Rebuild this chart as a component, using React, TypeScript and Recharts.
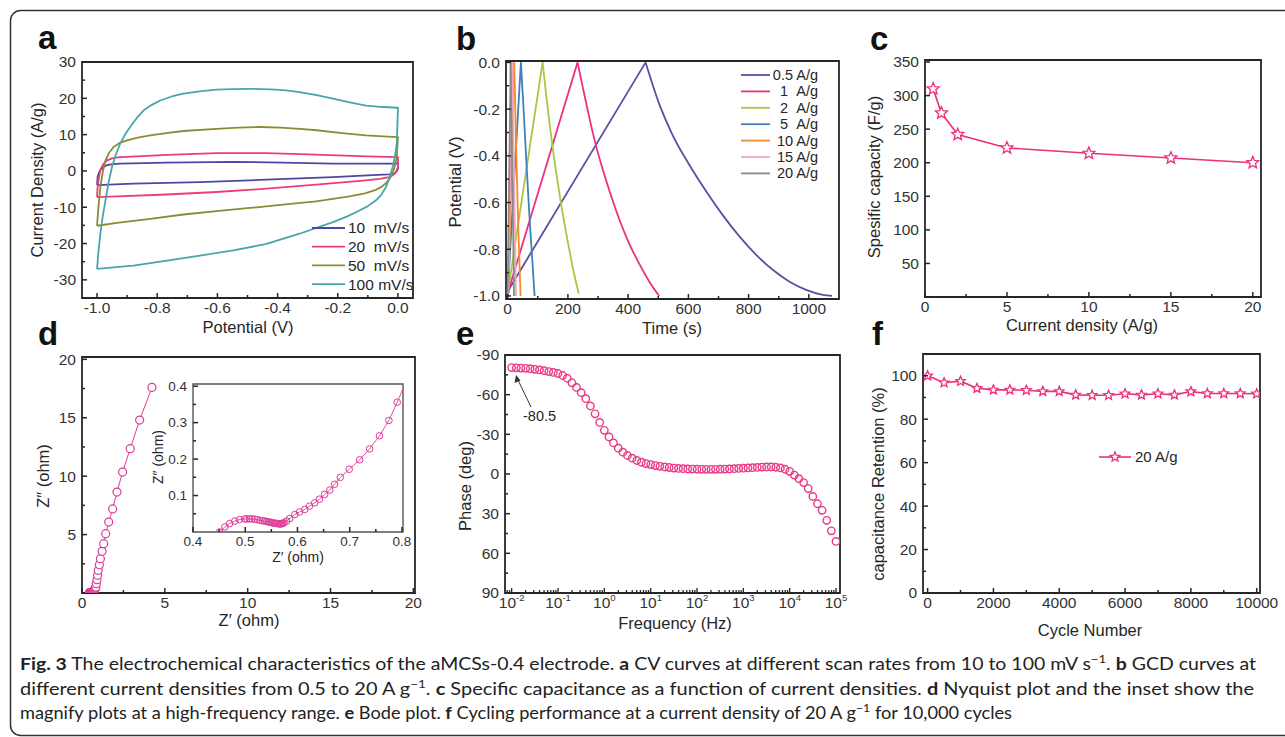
import React from "react";
import { LineChart, Line, XAxis, YAxis, ReferenceArea } from "recharts";

const FONT = "'Liberation Sans', Arial, Helvetica, sans-serif";
const INK = "#262626";
const LABEL = "#333";
const PINK = "#ec2f7c";
const MAGENTA = "#dc3c98";
const ROSE = "#ea3a86";

// ---------- a: CV curves, [potential V, current A/g] ----------
const cvNames = ["10\u00a0\u00a0mV/s", "20\u00a0\u00a0mV/s", "50\u00a0\u00a0mV/s", "100 mV/s"];
const cvColors = ["#4f45a3", "#ec3a7f", "#8d8a35", "#47a6a9"];
const cv10 = [
  [-1.0, -3.9], [-0.998, -1.6], [-0.994, -0.6], [-0.989, 0.2], [-0.98, 1.0], [-0.967, 1.6],
  [-0.948, 1.9], [-0.923, 2.0], [-0.768, 2.3], [-0.547, 2.5], [-0.382, 2.3], [-0.216, 2.0],
  [0.0, 2.0], [0.0, 0.6], [-0.005, -0.2], [-0.012, -0.8], [-0.03, -0.95], [-0.051, -1.0],
  [-0.216, -1.7], [-0.437, -2.4], [-0.658, -3.1], [-0.879, -3.5], [-1.0, -3.9],
];
const cv20 = [
  [-1.0, -7.2], [-0.998, -4.4], [-0.994, -1.9], [-0.989, 0.2], [-0.98, 1.8], [-0.967, 2.9],
  [-0.948, 3.5], [-0.923, 3.8], [-0.85, 4.1], [-0.768, 4.4], [-0.603, 4.9], [-0.437, 4.9],
  [-0.272, 4.5], [-0.106, 4.0], [0.0, 3.8], [0.0, 1.0], [-0.007, -0.3], [-0.016, -1.1],
  [-0.029, -1.7], [-0.06, -2.2], [-0.106, -2.6], [-0.272, -3.8], [-0.437, -4.9],
  [-0.603, -5.8], [-0.768, -6.5], [-0.934, -7.0], [-1.0, -7.2],
];
const cv50 = [
  [-1.0, -15.1], [-0.995, -9.5], [-0.989, -4.5], [-0.981, -0.3], [-0.972, 2.9], [-0.96, 5.0],
  [-0.945, 6.6], [-0.925, 7.7], [-0.9, 8.4], [-0.865, 9.2], [-0.823, 9.8], [-0.77, 10.4],
  [-0.713, 11.0], [-0.603, 11.6], [-0.53, 11.9], [-0.459, 12.1], [-0.39, 11.9], [-0.327, 11.6],
  [-0.27, 11.2], [-0.216, 10.7], [-0.16, 10.2], [-0.106, 9.8], [-0.05, 9.5], [0.0, 9.3],
  [-0.002, 6.3], [-0.004, 3.8], [-0.01, 1.4], [-0.018, -0.6], [-0.028, -2.2], [-0.04, -3.4],
  [-0.055, -4.4], [-0.073, -5.2], [-0.11, -6.2], [-0.161, -7.0], [-0.272, -8.4],
  [-0.382, -9.3], [-0.492, -10.2], [-0.603, -11.1], [-0.713, -12.0], [-0.823, -13.2],
  [-0.934, -14.3], [-1.0, -15.1],
];
const cv100 = [
  [-1.0, -27.0], [-0.995, -22.0], [-0.989, -17.3], [-0.981, -12.5], [-0.972, -8.1],
  [-0.962, -3.3], [-0.95, 1.2], [-0.937, 4.6], [-0.923, 7.5], [-0.907, 10.0], [-0.89, 12.1],
  [-0.868, 14.6], [-0.845, 16.7], [-0.818, 18.2], [-0.79, 19.4], [-0.752, 20.5],
  [-0.713, 21.3], [-0.66, 21.9], [-0.603, 22.4], [-0.55, 22.55], [-0.492, 22.6],
  [-0.45, 22.55], [-0.404, 22.4], [-0.365, 22.1], [-0.327, 21.7], [-0.27, 20.9],
  [-0.216, 19.9], [-0.16, 18.9], [-0.106, 18.0], [-0.05, 17.6], [0.0, 17.4], [-0.002, 12.0],
  [-0.004, 7.5], [-0.01, 4.0], [-0.018, 1.0], [-0.028, -1.9], [-0.04, -4.5], [-0.055, -6.5],
  [-0.073, -8.1], [-0.1, -9.7], [-0.128, -10.9], [-0.17, -12.6], [-0.216, -14.1],
  [-0.327, -17.3], [-0.437, -20.1], [-0.547, -21.9], [-0.658, -23.3], [-0.768, -24.7],
  [-0.879, -26.1], [-1.0, -27.0],
];
const cvSeries = [cv10, cv20, cv50, cv100];
const aXMajor = [-1.0, -0.8, -0.6, -0.4, -0.2, 0.0];
const aXMinor = [-0.9, -0.7, -0.5, -0.3, -0.1];
const aYMajor = [-30, -20, -10, 0, 10, 20, 30];
const aYMinor = [-25, -15, -5, 5, 15, 25];

// ---------- b: GCD curves, [time s, potential V] ----------
const gcdNames = ["0.5 A/g", "1\u00a0\u00a0A/g", "2\u00a0\u00a0A/g", "5\u00a0\u00a0A/g", "10 A/g", "15 A/g", "20 A/g"];
const gcdColors = ["#5a4fa6", "#ee2f7f", "#a9c83e", "#3f80bd", "#f58a2e", "#f2aac4", "#8a8a8a"];
const g05 = [
  [0, -1.0], [5, -0.97], [458, 0.0], [505, -0.184], [548, -0.312], [604, -0.44], [660, -0.554],
  [714, -0.654], [770, -0.746], [826, -0.825], [881, -0.889], [936, -0.939], [991, -0.974],
  [1046, -0.995], [1077, -1.0],
];
const g1 = [
  [0, -1.0], [3, -0.975], [232, 0.0], [250, -0.11], [270, -0.23], [292, -0.35], [316, -0.46],
  [343, -0.57], [373, -0.68], [405, -0.78], [438, -0.865], [471, -0.94], [503, -1.0],
];
const g2 = [
  [0, -0.99], [116, 0.0], [127, -0.13], [139, -0.26], [152, -0.39], [167, -0.52], [183, -0.65],
  [200, -0.77], [218, -0.89], [236, -0.99],
];
const g5 = [[0, -0.99], [44, 0.0], [52, -0.18], [61, -0.4], [72, -0.65], [82, -0.85], [89.5, -1.0]];
const g10 = [[2, -0.99], [22, 0.0], [27, -0.3], [35, -0.7], [43, -1.0]];
const g15 = [[1, -0.99], [15.5, 0.0], [19, -0.3], [24, -0.7], [27.6, -1.0]];
const g20 = [[0, -0.99], [10, 0.0], [13, -0.3], [18, -0.7], [21, -1.0]];
const gcdSeries = [g05, g1, g2, g5, g10, g15, g20];
const bXMajor = [0, 200, 400, 600, 800, 1000];
const bXMinor = [100, 300, 500, 700, 900];
const bYMajor = [0.0, -0.2, -0.4, -0.6, -0.8, -1.0];
const bYMinor = [-0.1, -0.3, -0.5, -0.7, -0.9];

// ---------- c: specific capacity ----------
const cDensity = [0.5, 1, 2, 5, 10, 15, 20];
const cCapacity = [310, 274, 242, 222, 214, 207, 200];
const cXMajor = [0, 5, 10, 15, 20];
const cXMinor = [2.5, 7.5, 12.5, 17.5];
const cYMajor = [50, 100, 150, 200, 250, 300, 350];

// ---------- d: Nyquist, [Z' ohm, Z'' ohm] ----------
const nyquist = [
  [0.451, 0.0], [0.461, 0.014], [0.47, 0.023], [0.48, 0.03], [0.489, 0.034], [0.499, 0.036],
  [0.503, 0.036], [0.508, 0.036], [0.513, 0.036], [0.518, 0.035], [0.523, 0.034],
  [0.528, 0.032], [0.533, 0.031], [0.537, 0.03], [0.541, 0.029], [0.544, 0.028],
  [0.547, 0.027], [0.55, 0.026], [0.553, 0.025], [0.556, 0.024], [0.558, 0.024],
  [0.561, 0.023], [0.563, 0.023], [0.566, 0.022], [0.568, 0.022], [0.57, 0.023],
  [0.572, 0.024], [0.574, 0.025], [0.579, 0.03], [0.585, 0.037], [0.595, 0.048],
  [0.604, 0.055], [0.614, 0.062], [0.623, 0.071], [0.633, 0.08], [0.642, 0.09],
  [0.652, 0.103], [0.662, 0.115], [0.671, 0.131], [0.682, 0.15], [0.699, 0.172],
  [0.719, 0.198], [0.738, 0.228], [0.757, 0.264], [0.775, 0.306], [0.791, 0.356],
  [0.81, 0.42], [0.84, 0.51], [0.86, 0.8], [0.9, 1.14], [0.94, 1.51], [0.98, 1.94],
  [1.05, 2.42], [1.11, 2.94], [1.21, 3.57], [1.31, 4.22], [1.43, 5.08], [1.61, 6.07],
  [1.85, 7.2], [2.11, 8.64], [2.45, 10.35], [2.91, 12.35], [3.48, 14.8], [4.22, 17.6],
];
const dXMajor = [0, 5, 10, 15, 20];
const dXMinor = [2.5, 7.5, 12.5, 17.5];
const dYMajor = [5, 10, 15, 20];
const dYMinor = [2.5, 7.5, 12.5, 17.5];
const inXMajor = [0.4, 0.5, 0.6, 0.7, 0.8];
const inXMinor = [0.45, 0.55, 0.65, 0.75];
const inYMajor = [0.1, 0.2, 0.3, 0.4];
const inYMinor = [0.05, 0.15, 0.25, 0.35];

// ---------- e: Bode phase, [frequency Hz, phase deg] ----------
const bode = [
  [0.01, -80.5], [0.0126, -80.3], [0.0158, -80.1], [0.02, -79.9], [0.0251, -79.6],
  [0.0316, -79.2], [0.0398, -78.7], [0.0501, -78.1], [0.0631, -77.5], [0.0794, -76.8],
  [0.1, -76.0], [0.126, -74.5], [0.158, -72.5], [0.2, -69.0], [0.251, -65.5],
  [0.316, -61.5], [0.398, -57.0], [0.501, -51.5], [0.631, -45.5], [0.794, -39.0],
  [1, -33.0], [1.26, -28.0], [1.58, -23.5], [2.0, -19.5], [2.51, -16.5],
  [3.16, -14.0], [3.98, -12.0], [5.01, -10.2], [6.31, -8.9], [7.94, -7.9],
  [10, -7.1], [12.6, -6.4], [15.8, -5.8], [20, -5.3], [25.1, -4.9],
  [31.6, -4.5], [39.8, -4.2], [50.1, -4.0], [63.1, -3.8], [79.4, -3.7],
  [100, -3.6], [126, -3.5], [158, -3.5], [200, -3.5], [251, -3.5],
  [316, -3.6], [398, -3.7], [501, -3.8], [631, -4.0], [794, -4.2],
  [1000, -4.4], [1260, -4.6], [1580, -4.8], [2000, -5.0], [2510, -5.2],
  [3160, -5.3], [3980, -5.3], [5010, -5.1], [6310, -4.6], [7940, -3.6],
  [10000, -2.0], [12600, 0.8], [15800, 3.5], [20000, 6.5], [25100, 11.0],
  [31600, 17.0], [39800, 22.5], [50100, 27.5], [63100, 35.0], [79400, 43.0],
  [100000, 51.0],
];
const eXMajor = [0.01, 0.1, 1, 10, 100, 1000, 10000, 100000];
const eXExp = ["-2", "-1", "0", "1", "2", "3", "4", "5"];
const eYMajor = [-90, -60, -30, 0, 30, 60, 90];
const eYMinor = [-75, -45, -15, 15, 45, 75];

// ---------- f: cycling ----------
const fCycle = [0, 500, 1000, 1500, 2000, 2500, 3000, 3500, 4000, 4500, 5000, 5500, 6000, 6500, 7000, 7500, 8000, 8500, 9000, 9500, 10000];
const fRetention = [100, 96.8, 97.5, 94.2, 93.5, 93.5, 93.3, 92.8, 92.8, 91.2, 91.0, 91.0, 91.7, 91.2, 91.7, 91.2, 92.7, 91.8, 91.8, 91.8, 91.7];
const fXMajor = [0, 2000, 4000, 6000, 8000, 10000];
const fXMinor = [1000, 3000, 5000, 7000, 9000];
const fYMajor = [0, 20, 40, 60, 80, 100];
const fYMinor = [10, 30, 50, 70, 90];

const toXY = (a: number[][]) => a.map(([x, y]) => ({ x, y }));
const zip = (xs: number[], ys: number[]) => xs.map((x, i) => ({ x, y: ys[i] }));
const f1 = (v: number) => v.toFixed(1);
const f0 = (v: number) => String(v);

// split a GCD curve at its peak: charge part (straight) and discharge part (smooth)
const peakIndex = (s: number[][]) => s.reduce((best, p, i) => (p[1] > s[best][1] ? i : best), 0);
const chargePart = (s: number[][]) => s.slice(0, peakIndex(s) + 1);
const dischargePart = (s: number[][]) => s.slice(peakIndex(s));

// ---------- layout helpers ----------
type Box = { L: number; T: number; R: number; B: number };
const PAD_L = 80;
const PAD_B = 46;
const PAD_T = 12;
const PAD_R = 22;
const XGAP = 4;
const YGAP = 6;

const frame = (b: Box) => ({
  left: b.L - PAD_L,
  top: b.T - PAD_T,
  width: b.R - b.L + PAD_L + PAD_R,
  height: b.B - b.T + PAD_T + PAD_B,
  margin: { top: PAD_T, right: PAD_R, bottom: 0, left: 0 },
});

const near = (arr: number[], v: number) => arr.some((m) => Math.abs(m - v) <= 1e-9 * Math.max(1, Math.abs(m)));

const bottomTick = (majors: number[], fmt: (v: number) => string, size = 15.5) => (p: any) => {
  const v = p.payload.value;
  const major = near(majors, v);
  const y0 = p.y - XGAP;
  return (
    <g>
      <line x1={p.x} x2={p.x} y1={y0} y2={y0 - (major ? 5 : 3)} stroke={INK} strokeWidth={1.5} />
      {major && (
        <text x={p.x} y={p.y} dy="0.72em" textAnchor="middle" fontSize={size} fill={LABEL} fontFamily={FONT}>
          {fmt(v)}
        </text>
      )}
    </g>
  );
};

const leftTick = (majors: number[], fmt: (v: number) => string, size = 15.5) => (p: any) => {
  const v = p.payload.value;
  const major = near(majors, v);
  const x0 = p.x + YGAP;
  return (
    <g>
      <line x1={x0} x2={x0 + (major ? 5 : 3)} y1={p.y} y2={p.y} stroke={INK} strokeWidth={1.5} />
      {major && (
        <text x={p.x} y={p.y} dy="0.35em" textAnchor="end" fontSize={size} fill={LABEL} fontFamily={FONT}>
          {fmt(v)}
        </text>
      )}
    </g>
  );
};

const logTick = (p: any) => {
  const v = p.payload.value;
  const i = eXMajor.findIndex((m) => Math.abs(m - v) <= 1e-9 * m);
  const y0 = p.y - XGAP;
  return (
    <g>
      <line x1={p.x} x2={p.x} y1={y0} y2={y0 - (i >= 0 ? 5 : 3)} stroke={INK} strokeWidth={1.3} />
      {i >= 0 && (
        <text x={p.x} y={p.y} dy="0.72em" textAnchor="middle" fontSize={15.5} fill={LABEL} fontFamily={FONT}>
          10
          <tspan dy={-7} fontSize={9.5}>{eXExp[i]}</tspan>
        </text>
      )}
    </g>
  );
};

const starPoints = (cx: number, cy: number, R: number) => {
  const pts: string[] = [];
  for (let k = 0; k < 10; k++) {
    const r = k % 2 === 0 ? R : R * 0.45;
    const a = -Math.PI / 2 + (k * Math.PI) / 5;
    pts.push(`${cx + r * Math.cos(a)},${cy + r * Math.sin(a)}`);
  }
  return pts.join(" ");
};

const starDot = (R: number, color: string) => (p: any) => (
  <polygon key={`s${p.index}`} points={starPoints(p.cx, p.cy, R)} fill="#fff" stroke={color} strokeWidth={1.3} />
);

const Frame = ({ box, children }: { box: Box; children: React.ReactNode }) => {
  const f = frame(box);
  return (
    <div style={{ position: "absolute", left: f.left, top: f.top }}>
      <LineChart width={f.width} height={f.height} margin={f.margin}>
        {children}
      </LineChart>
    </div>
  );
};

const xAxisProps = { type: "number" as const, dataKey: "x", allowDataOverflow: true, interval: 0 as const, height: PAD_B, tickSize: 0, tickMargin: XGAP, tickLine: false, axisLine: false };
const yAxisProps = { type: "number" as const, allowDataOverflow: true, interval: 0 as const, width: PAD_L, tickSize: 0, tickMargin: YGAP, tickLine: false, axisLine: false };

const boxA: Box = { L: 82, T: 62, R: 413, B: 298 };
const boxB: Box = { L: 506, T: 61, R: 839, B: 299 };
const boxC: Box = { L: 925, T: 60, R: 1261, B: 297 };
const boxD: Box = { L: 82, T: 357, R: 415, B: 593 };
const boxIn: Box = { L: 193, T: 384, R: 403, B: 532 };
const boxE: Box = { L: 505, T: 355, R: 840, B: 593 };
const boxF: Box = { L: 923, T: 354, R: 1260, B: 593 };

const eMinor: number[] = [];
[0.001, 0.01, 0.1, 1, 10, 100, 1000, 10000].forEach((d) => {
  for (let m = 2; m <= 9; m++) {
    const v = d * m;
    if (v > 0.00718 && v < 121900 && !near(eXMajor, v)) eMinor.push(v);
  }
});

const Title = ({ x, y, text, rotate, size = 16.5 }: { x: number; y: number; text: string; rotate?: boolean; size?: number }) => (
  <text
    x={x}
    y={y}
    dy="0.35em"
    textAnchor="middle"
    fontSize={size}
    fill={INK}
    fontFamily={FONT}
    transform={rotate ? `rotate(-90 ${x} ${y})` : undefined}
  >
    {text}
  </text>
);

const Letter = ({ x, y, t }: { x: number; y: number; t: string }) => (
  <text x={x} y={y} fontSize={33} fontWeight="bold" fill="#111" fontFamily={FONT}>
    {t}
  </text>
);

const CAP = "Lato, 'Open Sans', sans-serif";
const SUP = "\u22121";

export default function App() {
  return (
    <div style={{ position: "relative", width: 1285, height: 737, background: "#fff", overflow: "hidden" }}>
      <style>{"body{margin:0}"}</style>

      {/* a */}
      <Frame box={boxA}>
        <XAxis {...xAxisProps} domain={[-1.05, 0.05]} ticks={[...aXMajor, ...aXMinor]} tick={bottomTick(aXMajor, f1)} />
        <YAxis {...yAxisProps} domain={[-35, 30]} ticks={[...aYMajor, ...aYMinor]} tick={leftTick(aYMajor, f0)} />
        <ReferenceArea x1={-1.05} x2={0.05} y1={-35} y2={30} fill="none" stroke={INK} strokeWidth={1.8} />
        {cvSeries.map((s, i) => (
          <Line key={i} data={toXY(s)} dataKey="y" stroke={cvColors[i]} strokeWidth={1.8} strokeLinejoin="round" dot={false} isAnimationActive={false} />
        ))}
      </Frame>

      {/* b */}
      <Frame box={boxB}>
        <XAxis {...xAxisProps} domain={[-5.5, 1100]} ticks={[...bXMajor, ...bXMinor]} tick={bottomTick(bXMajor, f0)} />
        <YAxis {...yAxisProps} domain={[-1.013, 0.006]} ticks={[...bYMajor, ...bYMinor]} tick={leftTick(bYMajor, f1)} />
        <ReferenceArea x1={-5.5} x2={1100} y1={-1.013} y2={0.006} fill="none" stroke={INK} strokeWidth={1.8} />
        {gcdSeries.map((s, i) => (
          <Line key={`c${i}`} type="linear" data={toXY(chargePart(s))} dataKey="y" stroke={gcdColors[i]} strokeWidth={1.8} dot={false} isAnimationActive={false} />
        ))}
        {gcdSeries.map((s, i) => (
          <Line key={`d${i}`} type="monotone" data={toXY(dischargePart(s))} dataKey="y" stroke={gcdColors[i]} strokeWidth={1.8} dot={false} isAnimationActive={false} />
        ))}
      </Frame>

      {/* c */}
      <Frame box={boxC}>
        <XAxis {...xAxisProps} domain={[0, 20.5]} ticks={[...cXMajor, ...cXMinor]} tick={bottomTick(cXMajor, f0)} />
        <YAxis {...yAxisProps} domain={[0, 353]} ticks={cYMajor} tick={leftTick(cYMajor, f0)} />
        <ReferenceArea x1={0} x2={20.5} y1={0} y2={353} fill="none" stroke={INK} strokeWidth={1.8} />
        <Line data={zip(cDensity, cCapacity)} dataKey="y" stroke={PINK} strokeWidth={1.6} dot={starDot(6.3, PINK)} isAnimationActive={false} />
      </Frame>

      {/* d */}
      <Frame box={boxD}>
        <XAxis {...xAxisProps} domain={[0, 20.1]} ticks={[...dXMajor, ...dXMinor]} tick={bottomTick(dXMajor, f0)} />
        <YAxis {...yAxisProps} domain={[0, 20.2]} ticks={[...dYMajor, ...dYMinor]} tick={leftTick(dYMajor, f0)} />
        <ReferenceArea x1={0} x2={20.1} y1={0} y2={20.2} fill="none" stroke={INK} strokeWidth={1.8} />
        <Line
          data={toXY(nyquist)}
          dataKey="y"
          stroke={MAGENTA}
          strokeWidth={1}
          dot={{ r: 4, fill: "#fff", stroke: MAGENTA, strokeWidth: 1.2 }}
          isAnimationActive={false}
        />
      </Frame>

      {/* d inset */}
      <Frame box={boxIn}>
        <XAxis {...xAxisProps} domain={[0.4, 0.802]} ticks={[...inXMajor, ...inXMinor]} tick={bottomTick(inXMajor, f1, 13.5)} />
        <YAxis {...yAxisProps} domain={[0, 0.406]} ticks={[...inYMajor, ...inYMinor]} tick={leftTick(inYMajor, f1, 13.5)} />
        <ReferenceArea x1={0.4} x2={0.802} y1={0} y2={0.406} fill="none" stroke="#555" strokeWidth={1.4} />
        <Line
          data={toXY(nyquist)}
          dataKey="y"
          stroke={MAGENTA}
          strokeWidth={0.9}
          dot={{ r: 3.3, fill: "none", stroke: MAGENTA, strokeWidth: 1 }}
          isAnimationActive={false}
        />
      </Frame>

      {/* e */}
      <Frame box={boxE}>
        <XAxis {...xAxisProps} scale="log" domain={[0.00718, 121900]} ticks={[...eXMajor, ...eMinor]} tick={logTick} />
        <YAxis {...yAxisProps} reversed domain={[-90, 90]} ticks={[...eYMajor, ...eYMinor]} tick={leftTick(eYMajor, f0)} />
        <ReferenceArea x1={0.00718} x2={121900} y1={-90} y2={90} fill="none" stroke={INK} strokeWidth={1.8} />
        <Line
          data={toXY(bode)}
          dataKey="y"
          stroke="none"
          dot={{ r: 3.7, fill: "none", stroke: ROSE, strokeWidth: 1.4 }}
          isAnimationActive={false}
        />
      </Frame>

      {/* f */}
      <Frame box={boxF}>
        <XAxis {...xAxisProps} domain={[-140, 10100]} ticks={[...fXMajor, ...fXMinor]} tick={bottomTick(fXMajor, f0)} />
        <YAxis {...yAxisProps} domain={[0, 110]} ticks={[...fYMajor, ...fYMinor]} tick={leftTick(fYMajor, f0)} />
        <ReferenceArea x1={-140} x2={10100} y1={0} y2={110} fill="none" stroke={INK} strokeWidth={1.8} />
        <Line data={zip(fCycle, fRetention)} dataKey="y" stroke={PINK} strokeWidth={1.6} dot={starDot(5, PINK)} isAnimationActive={false} />
      </Frame>

      <svg width={1285} height={737} style={{ position: "absolute", left: 0, top: 0, pointerEvents: "none" }}>
        <rect x={10.5} y={10.5} width={1300} height={725} rx={10} fill="none" stroke="#333" strokeWidth={1.5} />

        <Letter x={38} y={49} t="a" />
        <Letter x={456} y={50} t="b" />
        <Letter x={870} y={50} t="c" />
        <Letter x={38} y={345} t="d" />
        <Letter x={456} y={345} t="e" />
        <Letter x={872} y={345} t="f" />

        <Title x={37} y={180} text="Current Density (A/g)" rotate />
        <Title x={248} y={327} text="Potential (V)" />
        <Title x={455} y={182} text="Potential (V)" rotate />
        <Title x={672} y={328} text="Time (s)" />
        <Title x={874} y={177} text="Spesific capacity (F/g)" rotate />
        <Title x={1082} y={325} text="Current density (A/g)" />
        <Title x={43} y={476} text={"Z\u2033 (ohm)"} rotate />
        <Title x={249} y={620} text={"Z\u2032 (ohm)"} />
        <Title x={158} y={457} text={"Z\u2033 (ohm)"} rotate size={14} />
        <Title x={298} y={557} text={"Z\u2032 (ohm)"} size={14} />
        <Title x={465} y={486} text="Phase (deg)" rotate />
        <Title x={675} y={623} text="Frequency (Hz)" />
        <Title x={878} y={484} text="capacitance Retention (%)" rotate />
        <Title x={1090} y={630} text="Cycle Number" />

        {cvNames.map((n, i) => {
          const y = 228 + i * 18.7;
          return (
            <g key={n}>
              <line x1={312} x2={345} y1={y} y2={y} stroke={cvColors[i]} strokeWidth={1.8} />
              <text x={348} y={y} dy="0.35em" fontSize={15.5} fill={INK} fontFamily={FONT}>{n}</text>
            </g>
          );
        })}

        {gcdNames.map((n, i) => {
          const y = 75 + i * 16.4;
          return (
            <g key={n}>
              <line x1={741} x2={770} y1={y} y2={y} stroke={gcdColors[i]} strokeWidth={1.8} />
              <text x={818} y={y} dy="0.35em" textAnchor="end" fontSize={14.5} fill={INK} fontFamily={FONT}>{n}</text>
            </g>
          );
        })}

        <g>
          <line x1={1099} x2={1131} y1={457} y2={457} stroke={PINK} strokeWidth={1.6} />
          <polygon points={starPoints(1115, 457, 5)} fill="#fff" stroke={PINK} strokeWidth={1.3} />
          <text x={1135} y={457} dy="0.35em" fontSize={15} fill={INK} fontFamily={FONT}>20 A/g</text>
        </g>

        <g>
          <line x1={531} y1={407} x2={518} y2={380} stroke="#333" strokeWidth={1} />
          <polygon points="516,375 514.5,383 520.5,380.5" fill="#333" />
          <text x={523} y={421} fontSize={14.5} fill={INK} fontFamily={FONT}>-80.5</text>
        </g>

        <g fontFamily={CAP} fontSize={17} fill="#222">
          <text x={20} y={670} textLength={1236} lengthAdjust="spacingAndGlyphs">
            <tspan fontWeight="bold">Fig. 3</tspan> The electrochemical characteristics of the aMCSs-0.4 electrode.{" "}
            <tspan fontWeight="bold">a</tspan> CV curves at different scan rates from 10 to 100 mV s
            <tspan dy={-7} fontSize={11.5}>{SUP}</tspan>
            <tspan dy={7}>. </tspan>
            <tspan fontWeight="bold">b</tspan> GCD curves at
          </text>
          <text x={20} y={694.5} textLength={1234} lengthAdjust="spacingAndGlyphs">
            different current densities from 0.5 to 20 A g
            <tspan dy={-7} fontSize={11.5}>{SUP}</tspan>
            <tspan dy={7}>. </tspan>
            <tspan fontWeight="bold">c</tspan> Specific capacitance as a function of current densities.{" "}
            <tspan fontWeight="bold">d</tspan> Nyquist plot and the inset show the
          </text>
          <text x={20} y={719} textLength={992} lengthAdjust="spacingAndGlyphs">
            magnify plots at a high-frequency range. <tspan fontWeight="bold">e</tspan> Bode plot.{" "}
            <tspan fontWeight="bold">f</tspan> Cycling performance at a current density of 20 A g
            <tspan dy={-7} fontSize={11.5}>{SUP}</tspan>
            <tspan dy={7}> for 10,000 cycles</tspan>
          </text>
        </g>
      </svg>
    </div>
  );
}
